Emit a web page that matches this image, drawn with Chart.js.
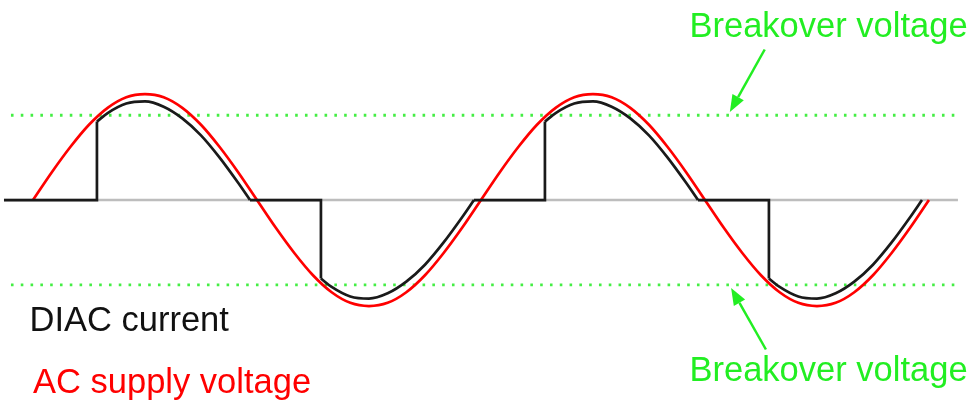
<!DOCTYPE html>
<html lang="en">
<head>
    <meta charset="UTF-8">
    <title>DIAC current vs AC supply voltage</title>
    <script src="https://cdn.jsdelivr.net/npm/chart.js"></script>
    <style>
        body { margin: 0; background: #fff; }
        .chart-box { width: 974px; height: 406px; }
    </style>
</head>
<body>
    <div class="chart-box">
        <canvas id="diacChart" width="974" height="406"></canvas>
    </div>

    <script>
        // phase in degrees, amplitude relative to supply peak
        const phaseDeg = [0, 15, 30, 45, 60, 75, 90, 105, 120, 135, 150, 165, 180,
            195, 210, 225, 240, 255, 270, 285, 300, 315, 330, 345, 360,
            375, 390, 405, 420, 435, 450, 465, 480, 495, 510, 525, 540,
            555, 570, 585, 600, 615, 630, 645, 660, 675, 690, 705, 720];
        const acSupply = [0, 0.26, 0.5, 0.71, 0.87, 0.97, 1, 0.97, 0.87, 0.71, 0.5, 0.26, 0,
            -0.26, -0.5, -0.71, -0.87, -0.97, -1, -0.97, -0.87, -0.71, -0.5, -0.26, 0,
            0.26, 0.5, 0.71, 0.87, 0.97, 1, 0.97, 0.87, 0.71, 0.5, 0.26, 0,
            -0.26, -0.5, -0.71, -0.87, -0.97, -1, -0.97, -0.87, -0.71, -0.5, -0.26, 0];

        const diacPhase = [-23.3, 51.4, 51.4, 60, 75, 90, 105, 120, 135, 150, 165, 174.4,
            231.4, 231.4, 240, 255, 270, 285, 300, 315, 330, 345, 354.4,
            411.4, 411.4, 420, 435, 450, 465, 480, 495, 510, 525, 534.4,
            591.4, 591.4, 600, 615, 630, 645, 660, 675, 690, 705, 714.4];
        const diacCurrent = [0, 0, 0.74, 0.82, 0.91, 0.93, 0.88, 0.77, 0.61, 0.40, 0.16, 0,
            0, -0.74, -0.82, -0.91, -0.93, -0.88, -0.77, -0.61, -0.40, -0.16, 0,
            0, 0.74, 0.82, 0.91, 0.93, 0.88, 0.77, 0.61, 0.40, 0.16, 0,
            0, -0.74, -0.82, -0.91, -0.93, -0.88, -0.77, -0.61, -0.40, -0.16, 0];

        const axisSpan = [-23.3, 743.3];
        const breakSpan = [-17.7, 743.3];
        const breakoverHigh = 0.80;
        const breakoverLow = -0.80;

        // arrows: tail -> tip, in phase / amplitude units
        const arrows = [
            { from: [588, 1.42], to: [560, 0.83] },
            { from: [589, -1.41], to: [561, -0.83] }
        ];

        const labels = [
            { text: 'Breakover voltage', x: 689.5, y: 37, color: '#22ee22' },
            { text: 'Breakover voltage', x: 689.5, y: 381, color: '#22ee22' },
            { text: 'DIAC current', x: 29.5, y: 331, color: '#111111' },
            { text: 'AC supply voltage', x: 33, y: 393, color: '#ff0000' }
        ];

        const green = '#22ee22';

        const pairs = (xs, ys) => xs.map((x, i) => ({ x: x, y: ys[i] }));

        // split the DIAC trace: smooth conducting lobes, straight off-state + switching steps
        const diacPts = pairs(diacPhase, diacCurrent);
        const diacLobes = diacPts.map((p, i) =>
            (p.y === 0 && (i === 0 || diacPts[i - 1].y === 0)) ? { x: p.x, y: null } : p);
        const diacSteps = diacPts.map((p, i) =>
            (p.y === 0 || (i > 0 && diacPts[i - 1].x === p.x)) ? p : { x: p.x, y: null });

        const overlay = {
            id: 'overlay',
            afterDatasetsDraw(chart) {
                const ctx = chart.ctx;
                const sx = chart.scales.x, sy = chart.scales.y;
                ctx.save();
                arrows.forEach(a => {
                    const x0 = sx.getPixelForValue(a.from[0]), y0 = sy.getPixelForValue(a.from[1]);
                    const x1 = sx.getPixelForValue(a.to[0]), y1 = sy.getPixelForValue(a.to[1]);
                    const ang = Math.atan2(y1 - y0, x1 - x0);
                    const head = 17, half = 6.5;
                    const bx = x1 - head * Math.cos(ang), by = y1 - head * Math.sin(ang);
                    ctx.strokeStyle = green;
                    ctx.lineWidth = 2.5;
                    ctx.beginPath();
                    ctx.moveTo(x0, y0);
                    ctx.lineTo(bx, by);
                    ctx.stroke();
                    ctx.fillStyle = green;
                    ctx.beginPath();
                    ctx.moveTo(x1, y1);
                    ctx.lineTo(bx + half * Math.sin(ang), by - half * Math.cos(ang));
                    ctx.lineTo(bx - half * Math.sin(ang), by + half * Math.cos(ang));
                    ctx.closePath();
                    ctx.fill();
                });
                ctx.font = '34.5px "Liberation Sans", Arial, sans-serif';
                ctx.textBaseline = 'alphabetic';
                labels.forEach(l => {
                    ctx.fillStyle = l.color;
                    ctx.fillText(l.text, l.x, l.y);
                });
                ctx.restore();
            }
        };

        const ctx = document.getElementById('diacChart').getContext('2d');

        const diacChart = new Chart(ctx, {
            type: 'line',
            data: {
                datasets: [
                    {
                        label: 'DIAC current',
                        data: diacLobes,
                        borderColor: '#1a1a1a',
                        borderWidth: 2.7,
                        cubicInterpolationMode: 'monotone',
                        spanGaps: false,
                        order: 0
                    },
                    {
                        label: 'DIAC current (off / switching)',
                        data: diacSteps,
                        borderColor: '#1a1a1a',
                        borderWidth: 2.7,
                        tension: 0,
                        spanGaps: false,
                        order: 0
                    },
                    {
                        label: 'AC supply voltage',
                        data: pairs(phaseDeg, acSupply),
                        borderColor: '#ff0000',
                        borderWidth: 2.7,
                        cubicInterpolationMode: 'monotone',
                        order: 1
                    },
                    {
                        label: 'Breakover +',
                        data: pairs(breakSpan, [breakoverHigh, breakoverHigh]),
                        borderColor: '#44ee44',
                        borderWidth: 2.8,
                        borderDash: [2.6, 7.2],
                        order: 2
                    },
                    {
                        label: 'Breakover -',
                        data: pairs(breakSpan, [breakoverLow, breakoverLow]),
                        borderColor: '#44ee44',
                        borderWidth: 2.8,
                        borderDash: [2.6, 7.2],
                        order: 2
                    },
                    {
                        label: 'zero',
                        data: pairs(axisSpan, [0, 0]),
                        borderColor: '#bdbdbd',
                        borderWidth: 2.5,
                        order: 3
                    }
                ]
            },
            options: {
                responsive: false,
                animation: false,
                events: [],
                layout: { padding: 0 },
                elements: { point: { radius: 0 } },
                plugins: {
                    legend: { display: false },
                    tooltip: { enabled: false }
                },
                scales: {
                    x: { type: 'linear', display: false, min: -26.5, max: 756.2 },
                    y: { display: false, min: -1.943, max: 1.887 }
                }
            },
            plugins: [overlay]
        });
    </script>
</body>
</html>
